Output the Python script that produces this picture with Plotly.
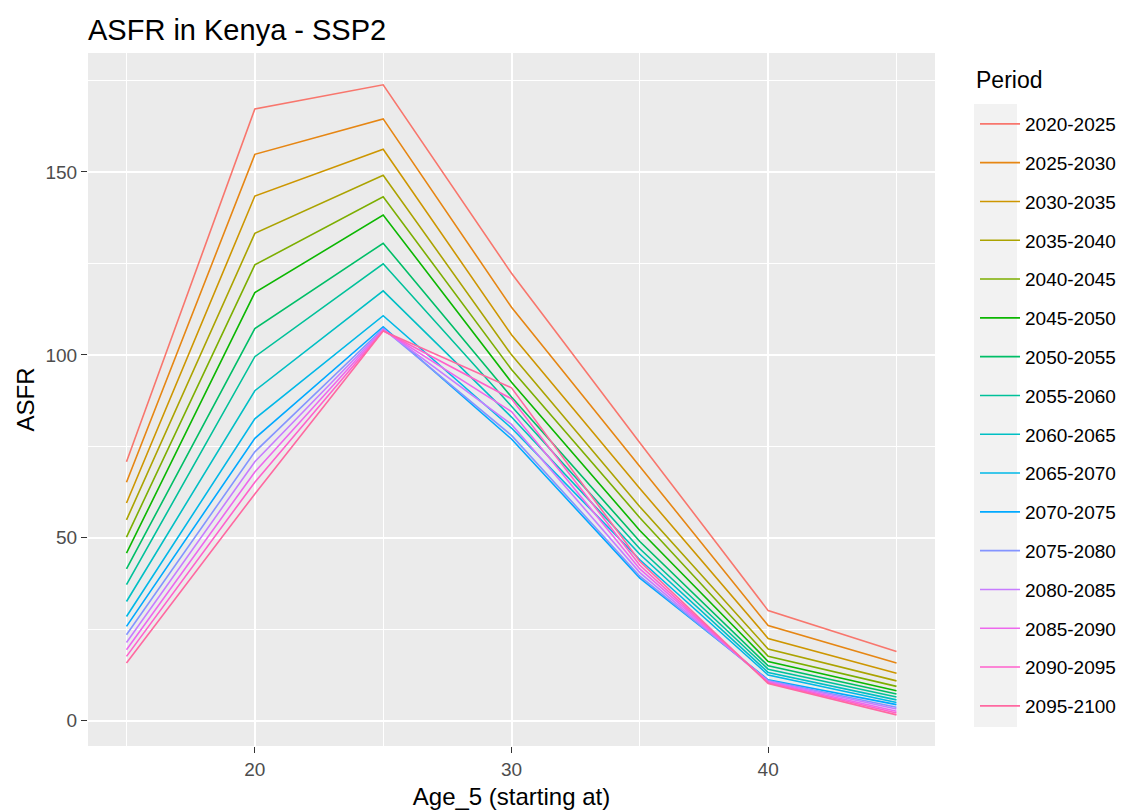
import math
import plotly.graph_objects as go

ages = [15, 20, 25, 30, 35, 40, 45]
periods = ["2020-2025", "2025-2030", "2030-2035", "2035-2040", "2040-2045",
           "2045-2050", "2050-2055", "2055-2060", "2060-2065", "2065-2070",
           "2070-2075", "2075-2080", "2080-2085", "2085-2090", "2090-2095",
           "2095-2100"]

asfr_15 = [70.8, 65.2, 59.5, 54.9, 50.2, 45.8, 41.5, 37.2, 32.6, 28.5, 25.8, 23.5, 21.4, 19.4, 17.6, 15.8]
asfr_20 = [167.2, 154.8, 143.4, 133.2, 124.6, 117.0, 107.2, 99.5, 90.2, 82.5, 77.2, 73.5, 70.8, 68.0, 65.2, 62.0]
asfr_25 = [173.8, 164.5, 156.2, 149.1, 143.2, 138.2, 130.5, 124.9, 117.5, 110.7, 107.7, 107.2, 107.0, 106.8, 106.6, 106.5]
asfr_30 = [122.3, 113.0, 105.5, 100.0, 96.0, 92.5, 88.5, 86.0, 83.0, 80.0, 77.0, 78.0, 81.0, 84.5, 88.0, 91.0]
asfr_35 = [76.0, 69.5, 63.5, 58.5, 55.5, 52.0, 49.0, 47.0, 45.5, 44.0, 39.0, 39.5, 40.5, 41.5, 42.5, 43.5]
asfr_40 = [30.1, 26.0, 22.5, 19.6, 17.6, 16.2, 15.0, 14.1, 13.2, 12.5, 11.2, 11.0, 10.8, 10.6, 10.4, 10.2]
asfr_45 = [18.9, 15.8, 13.0, 10.9, 9.4, 8.2, 7.3, 6.5, 5.7, 5.0, 4.4, 3.7, 3.2, 2.6, 2.1, 1.6]

by_age = [asfr_15, asfr_20, asfr_25, asfr_30, asfr_35, asfr_40, asfr_45]


def hcl_hex(h, c=100.0, l=65.0):
    hr = math.radians(h)
    u = c * math.cos(hr)
    v = c * math.sin(hr)
    Xn, Yn, Zn = 95.047, 100.0, 108.883
    Y = Yn * ((l + 16) / 116) ** 3
    den = Xn + 15 * Yn + 3 * Zn
    un = 4 * Xn / den
    vn = 9 * Yn / den
    up = u / (13 * l) + un
    vp = v / (13 * l) + vn
    X = 9 * Y * up / (4 * vp)
    Z = Y * (12 - 3 * up - 20 * vp) / (4 * vp)
    X, Y, Z = X / 100, Y / 100, Z / 100
    r = 3.240479 * X - 1.537150 * Y - 0.498535 * Z
    g = -0.969256 * X + 1.875992 * Y + 0.041556 * Z
    b = 0.055648 * X - 0.204043 * Y + 1.057311 * Z

    def gam(t):
        t = 1.055 * t ** (1 / 2.4) - 0.055 if t > 0.00304 else 12.92 * t
        return int(round(255 * min(1.0, max(0.0, t))))

    return "#%02X%02X%02X" % (gam(r), gam(g), gam(b))


n = len(periods)
colors = [hcl_hex(15 + 360 * i / n) for i in range(n)]

FONT = "Liberation Sans, Arial, sans-serif"

# plot panel in pixels: x 88..935, y 53..746
PL, PR, PT, PB = 88, 935, 53, 746
PW, PH = PR - PL, PB - PT


def px(xp):
    return (xp - PL) / PW


def py(yp):
    return (PB - yp) / PH


fig = go.Figure()
for i, p in enumerate(periods):
    fig.add_trace(go.Scatter(
        x=ages, y=[col[i] for col in by_age], mode="lines", name=p,
        legendgroup=p, line=dict(color=colors[i], width=1.6),
    ))

# grey legend key background (ggplot legend.key)
fig.add_shape(type="rect", xref="paper", yref="paper",
              x0=px(974), x1=px(1017), y0=py(727), y1=py(104),
              fillcolor="#F2F2F2", line=dict(width=0), layer="below")

fig.add_annotation(text="Period", xref="paper", yref="paper",
                   x=px(974), y=py(80), xanchor="left", yanchor="middle",
                   showarrow=False, font=dict(size=23, family=FONT, color="#000000"))

fig.update_layout(
    width=1122, height=810,
    margin=dict(l=PL, r=1122 - PR, t=PT, b=810 - PB, autoexpand=False),
    paper_bgcolor="white", plot_bgcolor="#EBEBEB",
    font=dict(family=FONT, color="#000000"),
    title=dict(text="ASFR in Kenya - SSP2", x=88 / 1122, xanchor="left",
               y=1 - 30 / 810, yanchor="middle",
               font=dict(size=29, family=FONT, color="#000000")),
    legend=dict(
        font=dict(size=19, family=FONT, color="#000000"),
        x=px(975), xanchor="left", y=py(105), yanchor="top",
        bgcolor="rgba(0,0,0,0)", tracegroupgap=11.1, itemwidth=40,
    ),
    xaxis=dict(
        range=[13.5, 46.5], tickvals=[20, 30, 40], showgrid=True,
        gridcolor="white", gridwidth=1.8, zeroline=False,
        ticks="outside", ticklen=6, tickcolor="#333333", tickwidth=1,
        tickfont=dict(size=19, color="#4D4D4D", family=FONT),
        title=dict(text="Age_5 (starting at)", font=dict(size=24, family=FONT), standoff=12),
        minor=dict(tickvals=[15, 25, 35, 45], showgrid=True, gridcolor="white",
                   gridwidth=0.9, ticklen=0),
    ),
    yaxis=dict(
        range=[-6.9, 182.5], tickvals=[0, 50, 100, 150], showgrid=True,
        gridcolor="white", gridwidth=1.8, zeroline=False,
        ticks="outside", ticklen=6, tickcolor="#333333", tickwidth=1,
        tickfont=dict(size=19, color="#4D4D4D", family=FONT),
        title=dict(text="ASFR", font=dict(size=24, family=FONT), standoff=4),
        minor=dict(tickvals=[25, 75, 125, 175], showgrid=True, gridcolor="white",
                   gridwidth=0.9, ticklen=0),
    ),
)

fig.write_html("out.html")
